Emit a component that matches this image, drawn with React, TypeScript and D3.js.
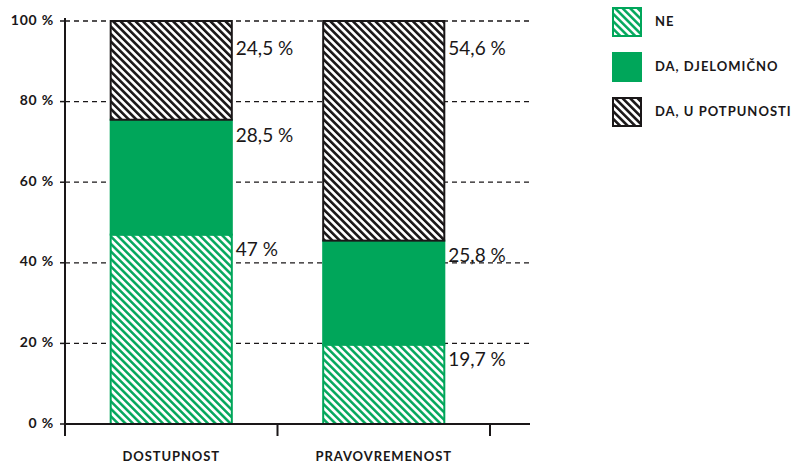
import React from "react";
import * as d3 from "d3";

const categories = ["DOSTUPNOST", "PRAVOVREMENOST"];
const seriesNames = ["NE", "DA, DJELOMIČNO", "DA, U POTPUNOSTI"];
const ne = [47, 19.7];
const djelomicno = [28.5, 25.8];
const potpunosti = [24.5, 54.6];
const valueLabels = [
  ["47 %", "19,7 %"],
  ["28,5 %", "25,8 %"],
  ["24,5 %", "54,6 %"],
];
const yTicks = [0, 20, 40, 60, 80, 100];

const W = 794;
const H = 466;
const GREEN = "#00a65a";
const INK = "#1a1718";

export default function App() {
  const x = d3.scaleBand<string>().domain(categories).range([65, 490]).paddingInner(0).paddingOuter(0);
  const y = d3.scaleLinear().domain([0, 100]).range([424, 21]);
  const barW = x.bandwidth() * 0.57;
  const series = [ne, djelomicno, potpunosti];
  const fills = ["url(#hatchGreen)", GREEN, "url(#hatchBlack)"];
  const strokes = [GREEN, GREEN, INK];

  const stacked = categories.map((c, ci) => {
    let acc = 0;
    return series.map((s, si) => {
      const y0 = acc;
      acc += s[ci];
      return { c, si, y0, y1: Math.min(acc, 100) };
    });
  });

  const font = "Lato, 'Open Sans', sans-serif";
  const P = 5.3;

  return (
    <svg width={W} height={H} style={{ position: "absolute", left: 0, top: 0, background: "#fff" }}>
      <defs>
        <pattern id="hatchGreen" patternUnits="userSpaceOnUse" width={P} height={P} patternTransform="rotate(-45)">
          <rect width={P} height={P} fill="#fff" />
          <line x1={1.3} y1={0} x2={1.3} y2={P} stroke={GREEN} strokeWidth={2.5} />
        </pattern>
        <pattern id="hatchBlack" patternUnits="userSpaceOnUse" width={P} height={P} patternTransform="rotate(-45)">
          <rect width={P} height={P} fill="#fff" />
          <line x1={1.3} y1={0} x2={1.3} y2={P} stroke={INK} strokeWidth={2.6} />
        </pattern>
      </defs>

      {/* grid */}
      {yTicks.filter((t) => t > 0).map((t) => (
        <line key={"g" + t} x1={65} x2={530} y1={y(t)} y2={y(t)} stroke={INK} strokeWidth={1.3} strokeDasharray="5,4" />
      ))}

      {/* bars */}
      {stacked.map((segs, ci) =>
        segs.map((s) => {
          const bx = (x(s.c) as number) + (x.bandwidth() - barW) / 2;
          return (
            <rect
              key={ci + "-" + s.si}
              x={bx}
              y={y(s.y1)}
              width={barW}
              height={y(s.y0) - y(s.y1)}
              fill={fills[s.si]}
              stroke={strokes[s.si]}
              strokeWidth={2}
            />
          );
        })
      )}

      {/* value labels */}
      {stacked.map((segs, ci) =>
        segs.map((s) => {
          const bx = (x(s.c) as number) + (x.bandwidth() + barW) / 2;
          const ty = Math.max(y(s.y1) + 17, 50);
          return (
            <text
              key={"l" + ci + "-" + s.si}
              x={bx + 4}
              y={ty}
              dominantBaseline="middle"
              fontFamily={font}
              fontWeight={400}
              fontSize={19}
              fill={INK}
            >
              {valueLabels[s.si][ci]}
            </text>
          );
        })
      )}

      {/* y axis */}
      <line x1={65} x2={65} y1={18} y2={430} stroke={INK} strokeWidth={2} />
      {yTicks.map((t) => (
        <g key={"t" + t}>
          <line x1={60} x2={65} y1={y(t)} y2={y(t)} stroke={INK} strokeWidth={1.5} />
          <text x={54} y={y(t)} textAnchor="end" dominantBaseline="middle" fontFamily={font} fontWeight={700} fontSize={14} letterSpacing={0.8} fill={INK}>
            {t + " %"}
          </text>
        </g>
      ))}

      {/* x axis */}
      <line x1={64} x2={530} y1={424} y2={424} stroke={INK} strokeWidth={2} />
      {[65, ...categories.map((c) => (x(c) as number) + x.bandwidth())].map((px, i) => (
        <line key={"xt" + i} x1={px} x2={px} y1={424} y2={436} stroke={INK} strokeWidth={2} />
      ))}
      {categories.map((c) => (
        <text
          key={"c" + c}
          x={(x(c) as number) + x.bandwidth() / 2}
          y={461}
          textAnchor="middle"
          fontFamily={font}
          fontWeight={700}
          fontSize={13}
          letterSpacing={0.9}
          fill={INK}
        >
          {c}
        </text>
      ))}

      {/* legend */}
      {seriesNames.map((n, i) => (
        <g key={"lg" + i} transform={`translate(613, ${8 + i * 45})`}>
          <rect x={0} y={0} width={28} height={28} fill={fills[i]} stroke={strokes[i]} strokeWidth={2} />
          <text x={42} y={15} dominantBaseline="middle" fontFamily={font} fontWeight={700} fontSize={13} letterSpacing={1} fill={INK}>
            {n}
          </text>
        </g>
      ))}
    </svg>
  );
}
